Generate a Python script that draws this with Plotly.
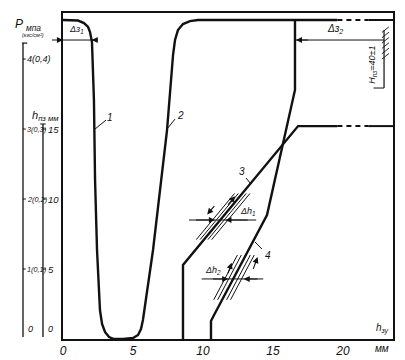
import numpy as np
import plotly.graph_objects as go

# ---------------- data (x: h_зу, mm ; y: h_пз, mm ; 0.1 MPa == 5 mm) ----------------
c1_x = [0, 1.07, 1.5, 1.79, 1.93, 2.07, 2.21, 2.29, 2.43, 2.64, 2.79, 3.0, 3.29, 3.64, 4.29]
c1_y = [22.79, 22.75, 22.57, 22.29, 21.93, 21.21, 17.07, 11.36, 6.36, 2.07, 1.07, 0.5, 0.14, 0, 0]

c2_x = [4.29, 5.0, 5.36, 5.57, 5.71, 6.43, 7.43, 7.86, 8.0, 8.21, 8.57, 9.07, 9.64, 19.6]
c2_y = [0, 0.07, 0.29, 0.71, 1.36, 6.36, 14.93, 20.29, 21.36, 22.07, 22.5, 22.71, 22.79, 22.79]

c3_x = [8.57, 8.57, 16.79, 19.6]
c3_y = [0, 5.29, 15.21, 15.21]

c4_x = [10.57, 10.57, 10.79, 14.57, 16.57, 16.57]
c4_y = [0, 1.29, 1.71, 8.86, 17.79, 22.79]

tail_dash_x = [19.6, 21.8]
tail_solid_x = [21.8, 23.57]

x_ticks = [0, 5, 10, 15, 20]
x_tick_text = ["0", "5", "10", "15", "20"]

p_ticks = [0.0, 0.1, 0.2, 0.3, 0.4]          # MPa
p_tick_text = ["0", "1(0,1)", "2(0,2)", "3(0,3)", "4(0,4)"]
h_ticks = [0, 5, 10, 15]                      # mm
h_tick_text = ["0", "5", "10", "15"]
MM_PER_MPA = 50.0

XMAX, YMAX = 23.57, 23.29
INK = "#111111"
FONT = "Liberation Sans"

fig = go.Figure()


def add_line(x, y, w=2.4, dash="solid"):
    fig.add_trace(go.Scatter(x=x, y=y, mode="lines", cliponaxis=False,
                             line=dict(color=INK, width=w, dash=dash),
                             hoverinfo="skip", showlegend=False))


add_line(c1_x, c1_y)
add_line(c2_x, c2_y)
add_line(c3_x, c3_y)
add_line(c4_x, c4_y)
for lvl in (c2_y[-1], c3_y[-1]):
    add_line(tail_dash_x, [lvl, lvl], w=2.0, dash="5px,4px")
    add_line(tail_solid_x, [lvl, lvl], w=2.0)

shapes = []
annos = []


def px2paper_x(xmm):
    return xmm / XMAX


def seg(x0, y0, x1, y1, w=1.2, ref="data"):
    if ref == "data":
        shapes.append(dict(type="line", xref="x", yref="y", x0=x0, y0=y0, x1=x1, y1=y1,
                           line=dict(color=INK, width=w)))
    else:
        shapes.append(dict(type="line", xref="paper", yref="y",
                           x0=px2paper_x(x0), y0=y0, x1=px2paper_x(x1), y1=y1,
                           line=dict(color=INK, width=w)))


def text(x, y, s, size=10, xanchor="center", yanchor="middle", angle=0, ref="data"):
    if ref == "data":
        xr, yr, xx, yy = "x", "y", x, y
    elif ref == "paper":
        xr, yr, xx, yy = "paper", "y", px2paper_x(x), y
    else:  # both paper
        xr, yr, xx, yy = "paper", "paper", px2paper_x(x), y / YMAX
    annos.append(dict(x=xx, y=yy, xref=xr, yref=yr, text=s, showarrow=False,
                      xanchor=xanchor, yanchor=yanchor, textangle=angle,
                      font=dict(family=FONT, size=size, color=INK, style="italic")))


def arrow(xt, yt, xtail, ytail, w=1.1):
    annos.append(dict(x=xt, y=yt, ax=xtail, ay=ytail, xref="x", yref="y", axref="x", ayref="y",
                      text="", showarrow=True, arrowhead=2, arrowsize=1.1, arrowwidth=w,
                      arrowcolor=INK))


# ---------------- left scales (P and h_пз) ----------------
P_X, H_X = -2.857, -1.43
seg(P_X, 0.14, P_X, 21.14, w=1.3, ref="paper")
seg(P_X - 0.07, 21.14, P_X + 0.3, 21.14, w=1.2, ref="paper")
seg(H_X, 0.14, H_X, 15.36, w=1.3, ref="paper")
seg(H_X - 0.2, 15.36, H_X + 0.2, 15.36, w=1.0, ref="paper")

for p, t in zip(p_ticks, p_tick_text):
    yy = p * MM_PER_MPA
    if p == 0:
        text(P_X + 0.2, 0.2, t, size=9, xanchor="left", yanchor="bottom", ref="paper")
    else:
        seg(P_X, yy, P_X + 0.2, yy, w=1.0, ref="paper")
        text(P_X + 0.17, yy, t, size=9 if p >= 0.4 else 7.3, xanchor="left", ref="paper")
for h, t in zip(h_ticks, h_tick_text):
    if h == 0:
        text(H_X + 0.2, 0.2, t, size=9, xanchor="left", yanchor="bottom", ref="paper")
    else:
        seg(H_X, h, H_X + 0.22, h, w=1.0, ref="paper")
        text(H_X + 0.2, h, t, size=9.5, xanchor="left", ref="paper")

text(-3.6, 22.4, "P <sub>мпа</sub>", size=12, xanchor="left", ref="paper")
text(-3.1, 21.7, "(кгс/см²)", size=5.5, xanchor="left", ref="paper")
text(-2.35, 15.9, "h<sub>пз мм</sub>", size=11, xanchor="left", ref="paper")

# axis label for x
text(23.4, 0.15, "h<sub>зу</sub>", size=10, xanchor="right", yanchor="bottom")
text(23.45, -0.65, "мм", size=10, xanchor="right", yanchor="middle", ref="allpaper")

# ---------------- curve numbers with leaders ----------------
seg(2.29, 15.0, 3.07, 15.64, w=1.0)
text(3.35, 15.85, "1", size=10)
seg(7.43, 15.0, 8.0, 15.71, w=1.0)
text(8.4, 16.0, "2", size=10)
seg(13.07, 11.5, 13.43, 11.07, w=1.0)
text(12.8, 11.95, "3", size=10)
seg(13.71, 6.93, 14.21, 6.43, w=1.0)
text(14.65, 5.95, "4", size=10)

# ---------------- clearance dimensions ----------------
yz = 21.36
seg(-1.14, yz, 2.43, yz, w=1.0)
arrow(0.0, yz, -0.9, yz)
arrow(2.05, yz, 2.6, yz)
text(0.95, yz + 0.2, "Δз<sub>1</sub>", size=9, yanchor="bottom")

WALL = 22.93
seg(16.64, yz, WALL, yz, w=1.0)
arrow(16.64, yz, 17.6, yz)
text(19.4, yz + 0.2, "Δз<sub>2</sub>", size=10, yanchor="bottom")

# stop (wall) with hatching and H_пз text
seg(WALL, 17.93, WALL, 22.07, w=1.2)
seg(WALL - 0.75, 17.93, WALL, 17.93, w=1.0)
for hy in np.linspace(20.0, 21.9, 6):
    seg(WALL - 0.15, hy, WALL + 0.35, hy + 0.4, w=0.9)
text(22.14, 19.6, "H<sub>пз</sub>=40±1", size=9, angle=-90)

# ---------------- tolerance bands Δh1, Δh2 ----------------
def band(cx, cy, ylo, yhi, offsets):
    xs = np.interp([ylo, yhi], cy, cx)
    for off in offsets:
        seg(xs[0] + off, ylo, xs[1] + off, yhi, w=1.0)


band(c3_x[1:3], c3_y[1:3], 7.1, 10.4, [-0.55, -0.28, 0.28, 0.55])
band(c4_x[2:4], c4_y[2:4], 2.8, 6.0, [-0.6, -0.32, 0.32, 0.6])

# arrows along bands
arrow(10.3, 8.9, 10.9, 9.6)
arrow(12.3, 10.2, 11.7, 9.5)
arrow(12.05, 5.45, 11.75, 4.6)
arrow(13.9, 5.85, 13.55, 4.9)

yh1 = 8.5
seg(9.0, yh1, 13.8, yh1, w=1.0)
arrow(10.85, yh1, 9.4, yh1)
arrow(11.6, yh1, 13.3, yh1)
text(13.2, yh1 + 0.1, "Δh<sub>1</sub>", size=9, yanchor="bottom")

yh2 = 4.29
seg(9.9, yh2, 14.3, yh2, w=1.0)
arrow(11.8, yh2, 10.6, yh2)
arrow(12.9, yh2, 14.0, yh2)
text(10.7, yh2 + 0.1, "Δh<sub>2</sub>", size=9, yanchor="bottom")

# page body has an 8px margin: size the figure so the plot frame lands where the reference has it
fig.update_layout(
    width=397, height=352,
    margin=dict(l=55, r=12, t=5, b=21, pad=0, autoexpand=False),
    paper_bgcolor="white", plot_bgcolor="white",
    shapes=shapes, annotations=annos, showlegend=False,
    xaxis=dict(range=[0, XMAX], showgrid=False, zeroline=False, showline=True, mirror=True,
               automargin=False,
               linecolor=INK, linewidth=1.6, ticks="", tickvals=x_ticks, ticktext=x_tick_text,
               tickfont=dict(family=FONT, size=12, color=INK, style="italic")),
    yaxis=dict(range=[0, YMAX], showgrid=False, zeroline=False, showline=True, mirror=True,
               automargin=False,
               linecolor=INK, linewidth=1.6, ticks="", showticklabels=False),
)

fig.write_html("out.html")
